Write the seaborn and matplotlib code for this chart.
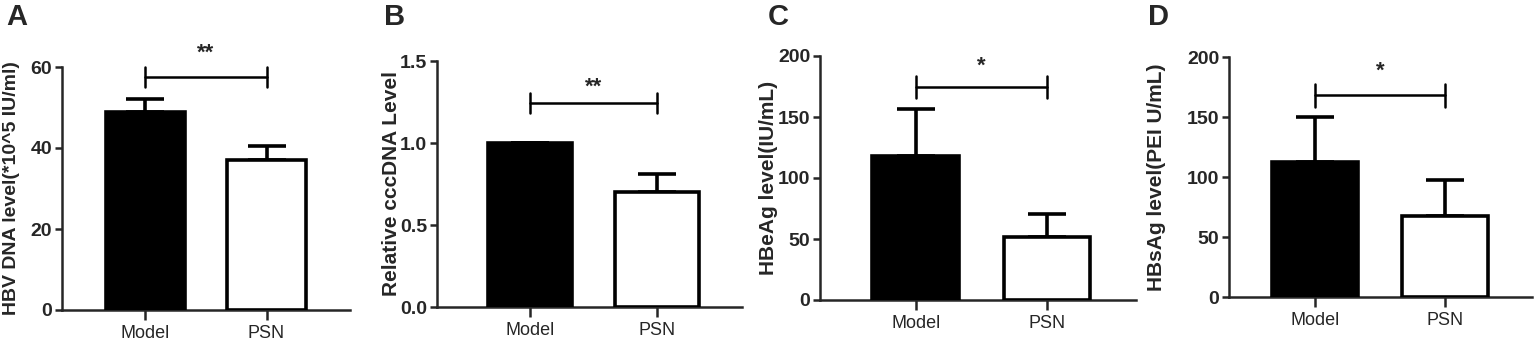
import numpy as np
import matplotlib
matplotlib.use("Agg")
import matplotlib.pyplot as plt
import seaborn as sns

groups = ["Model", "PSN"]

hbv_dna = [49.0, 37.0]
hbv_dna_err = [3.0, 3.5]
cccdna = [1.0, 0.70]
cccdna_err = [0.0, 0.11]
hbeag = [118.0, 52.0]
hbeag_err = [38.6, 18.5]
hbsag = [112.5, 67.5]
hbsag_err = [37.5, 30.0]

panel_letters = ["A", "B", "C", "D"]
ylabels = ["HBV DNA level(*10^5 IU/ml)", "Relative cccDNA Level",
           "HBeAg level(IU/mL)", "HBsAg level(PEI U/mL)"]
yticks = [[0, 20, 40, 60], [0.0, 0.5, 1.0, 1.5],
          [0, 50, 100, 150, 200], [0, 50, 100, 150, 200]]
ytick_labels = [["0", "20", "40", "60"], ["0.0", "0.5", "1.0", "1.5"],
                ["0", "50", "100", "150", "200"], ["0", "50", "100", "150", "200"]]
sig_marks = ["**", "**", "*", "*"]
sig_y = [57.5, 1.245, 174.6, 168.0]
sig_tick = [2.5, 0.06, 9.0, 9.5]
star_y = [63.5, 1.34, 192.0, 188.0]

sns.set_style("ticks")
plt.rcParams["font.family"] = ["Liberation Sans", "DejaVu Sans"]

fig = plt.figure(figsize=(15.36, 3.41), dpi=100)
W, H = 1536, 341

# axes boxes in pixels: left, right, top, bottom
boxes = [(62, 350, 67, 310), (437, 742, 61, 307),
         (820, 1136, 56, 300), (1229, 1532, 57, 297)]
xlims = [(-0.69, 1.69), (-0.73, 1.67), (-0.73, 1.68), (-0.66, 1.67)]
# right edge of the rotated y label, in pixels
label_x = [20, 401, 778, 1166]
label_size = [14, 15, 15, 15]
letter_x = [6, 384, 768, 1148]

values = [hbv_dna, cccdna, hbeag, hbsag]
errors = [hbv_dna_err, cccdna_err, hbeag_err, hbsag_err]

for i in range(4):
    l, r, t, b = boxes[i]
    ax = fig.add_axes([l / W, (H - b) / H, (r - l) / W, (b - t) / H])
    sns.barplot(x=groups, y=values[i], hue=groups, palette=["black", "white"],
                edgecolor="black", linewidth=2.6, width=0.66, legend=False,
                errorbar=None, ax=ax, zorder=3)
    up = np.array(errors[i])
    ax.errorbar([0, 1], values[i], yerr=[np.zeros(2), up], fmt="none",
                ecolor="black", elinewidth=2.6, capsize=14, capthick=2.6, zorder=2)
    ax.set_ylim(yticks[i][0], yticks[i][-1])
    ax.set_xlim(*xlims[i])
    ax.set_yticks(yticks[i])
    ax.set_yticklabels(ytick_labels[i], fontweight="bold", fontsize=14)
    ax.tick_params(axis="x", labelsize=13, length=7, width=1.8, pad=4)
    ax.tick_params(axis="y", length=5, width=1.8, pad=2)
    for s in ["left", "bottom"]:
        ax.spines[s].set_linewidth(1.8)
    sns.despine(ax=ax)
    ax.set_xlabel("")
    ax.set_ylabel(ylabels[i], fontweight="bold", fontsize=label_size[i])
    ax.yaxis.set_label_coords((label_x[i] - l) / (r - l), 0.5)

    # significance bracket
    y0, dy = sig_y[i], sig_tick[i]
    ax.plot([0, 1], [y0, y0], color="black", lw=1.8, clip_on=False)
    for xx in [0, 1]:
        ax.plot([xx, xx], [y0 - dy, y0 + dy], color="black", lw=1.8, clip_on=False)
    ax.text(0.5, star_y[i], sig_marks[i], ha="center", va="center",
            fontsize=16, fontweight="bold")

    fig.text(letter_x[i] / W, 1 - 3 / H, panel_letters[i], ha="left", va="top",
             fontsize=21, fontweight="bold")

fig.savefig("out.png", dpi=100, facecolor="white")
